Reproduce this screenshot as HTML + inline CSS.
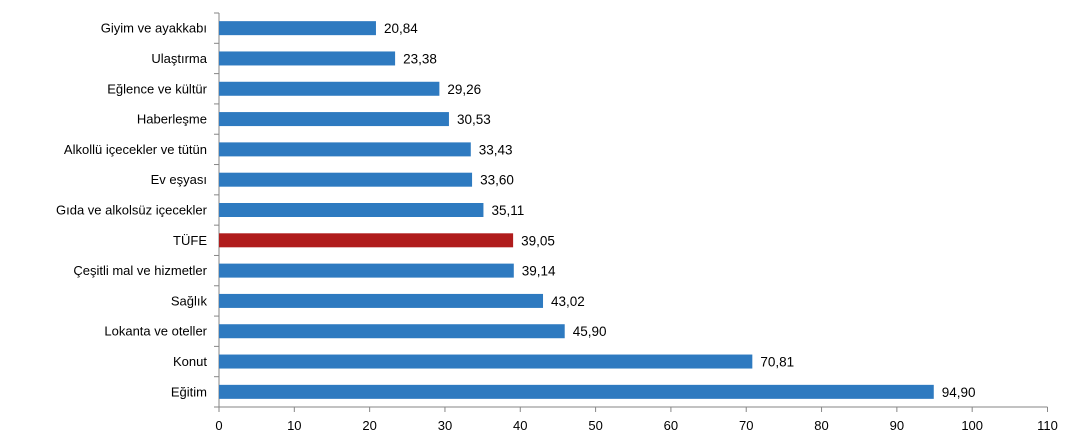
<!DOCTYPE html>
<html><head><meta charset="utf-8"><style>
html,body{margin:0;padding:0;background:#fff;}
svg{display:block;font-family:"Liberation Sans",Arial,sans-serif;}
</style></head><body>
<svg id="chart" width="1074" height="440" viewBox="0 0 1074 440" xmlns="http://www.w3.org/2000/svg"></svg>
<script>
const categories=["Giyim ve ayakkabı","Ulaştırma","Eğlence ve kültür","Haberleşme","Alkollü içecekler ve tütün","Ev eşyası","Gıda ve alkolsüz içecekler","TÜFE","Çeşitli mal ve hizmetler","Sağlık","Lokanta ve oteller","Konut","Eğitim"];
const values=[20.84,23.38,29.26,30.53,33.43,33.60,35.11,39.05,39.14,43.02,45.90,70.81,94.90];
const tickValues=[0,10,20,30,40,50,60,70,80,90,100,110];
const highlight="TÜFE";
const svgEl=document.getElementById('chart');
const NS="http://www.w3.org/2000/svg";
const x0=219,x1=1047.5,xMax=110,plotTop=13,plotBottom=407;
const xs=v=>x0+(v/xMax)*(x1-x0);
const band=(plotBottom-plotTop)/categories.length;
const yc=i=>plotTop+band*(i+0.5);
function mk(t,a){const e=document.createElementNS(NS,t);for(const k in a)e.setAttribute(k,a[k]);svgEl.appendChild(e);return e;}
let el;
el=mk('line',{x1:x0,y1:plotTop,x2:x0,y2:plotBottom,stroke:'#868686','stroke-width':1});


el=mk('line',{x1:x0,y1:plotBottom,x2:x1,y2:plotBottom,stroke:'#868686','stroke-width':1});


for(let i=0;i<=categories.length;i++){
 const yy=plotTop+band*i;
 el=mk('line',{x1:x0-5,y1:yy,x2:x0,y2:yy,stroke:'#868686','stroke-width':1});
 
 
}
tickValues.forEach(v=>{
 el=mk('line',{x1:xs(v),y1:plotBottom,x2:xs(v),y2:plotBottom+5,stroke:'#868686','stroke-width':1});
 
 
 el=mk('text',{x:xs(v),y:430,'text-anchor':'middle','font-size':13,fill:'#000'});
 el.textContent=String(v);
 
 
});
categories.forEach((c,i)=>{
 const y=yc(i);
 el=mk('text',{x:207,y:y+4.5,'text-anchor':'end','font-size':13,fill:'#000'});
 el.textContent=c;
 
 
 el=mk('rect',{x:x0,y:y-7,width:xs(values[i])-x0,height:14,fill:c===highlight?'#b01c1c':'#2e7ac0'});
 
 
 el=mk('text',{x:xs(values[i])+8,y:y+5,'font-size':13.5,fill:'#000'});
 el.textContent=values[i].toFixed(2).replace('.',',');
 
 
});
</script>
</body></html>
